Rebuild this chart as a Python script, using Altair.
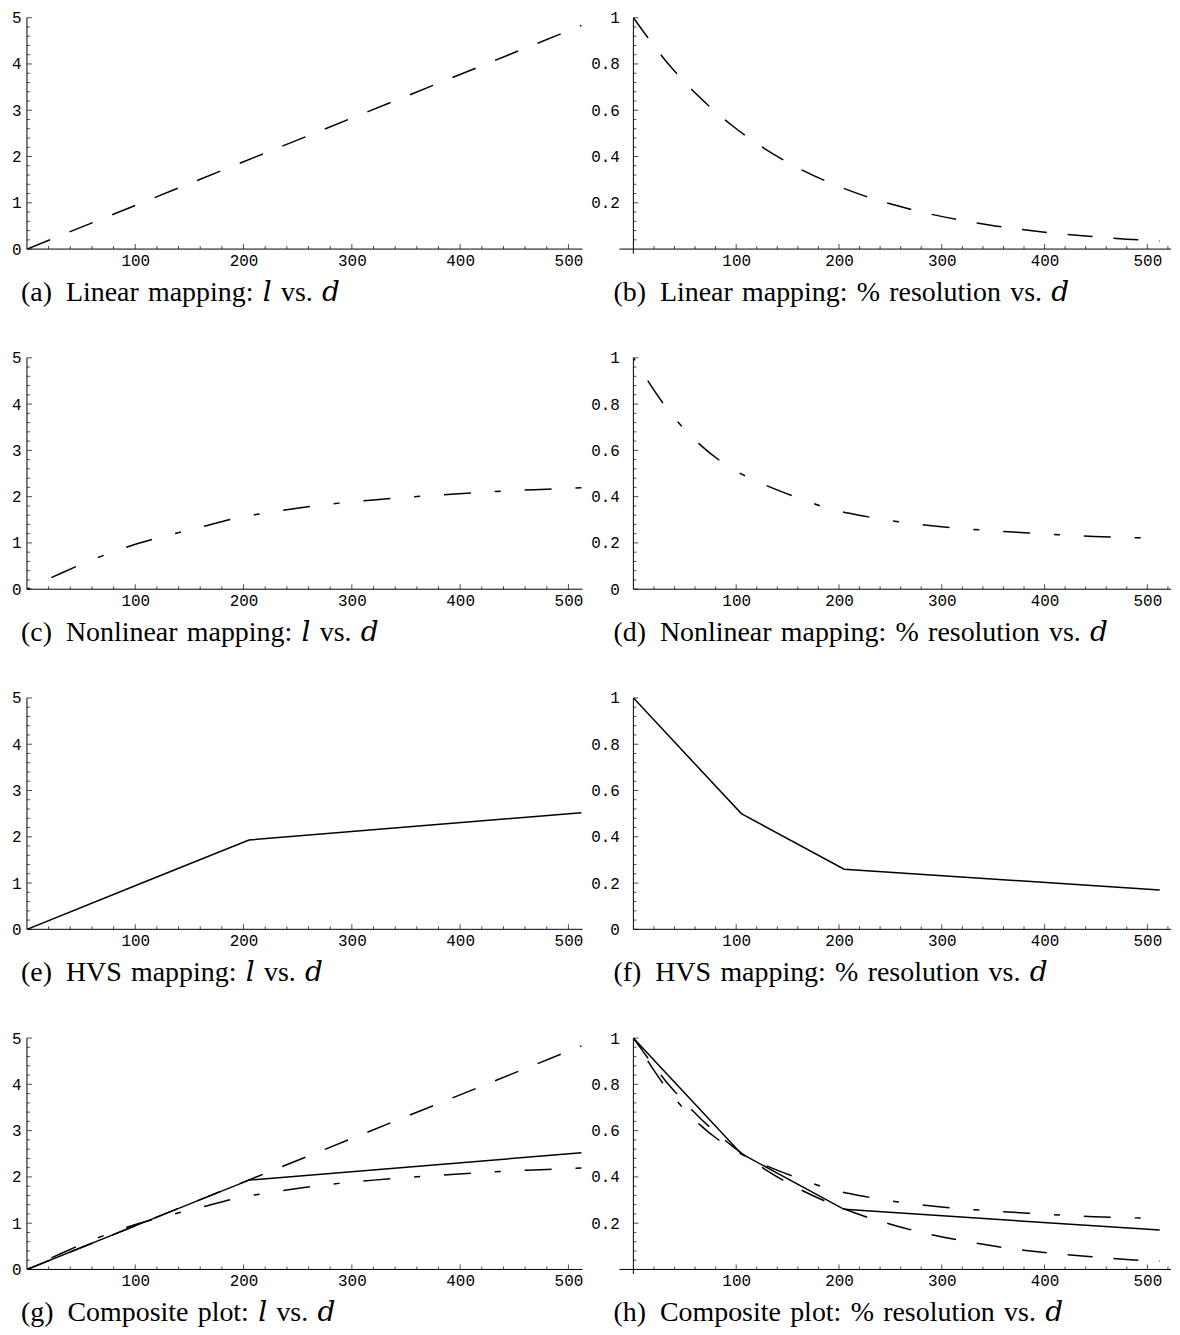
import altair as alt
import pandas as pd

# ---------------- values ----------------
# linear mapping  l(d)
lin_d = [0, 512]
lin_l = [0.0, 4.83]

# sampled curves
curve_d = [0, 32, 64, 96, 128, 160, 192, 224, 256, 288, 320, 352, 384, 416, 448, 480, 512]
lin_res = [1.0, 0.811, 0.658, 0.534, 0.433, 0.351, 0.285, 0.231, 0.188, 0.152,
           0.124, 0.100, 0.081, 0.066, 0.054, 0.043, 0.035]
nl_l = [0.0, 0.35, 0.67, 0.94, 1.15, 1.34, 1.53, 1.66, 1.77, 1.86,
        1.93, 1.99, 2.04, 2.09, 2.13, 2.16, 2.19]
nl_res = [1.0, 0.785, 0.628, 0.521, 0.451, 0.395, 0.346, 0.316, 0.293, 0.275,
          0.262, 0.252, 0.243, 0.235, 0.228, 0.224, 0.219]

# HVS mapping (piecewise linear)
hvs_d = [0, 105, 205, 512]
hvs_l = [0.0, 0.99, 1.93, 2.52]
hvs_res = [1.0, 0.50, 0.26, 0.17]

NB = "\u00a0"
SP = "\u2004"  # three-per-em space: wider word gaps like the TeX captions
L_IT, D_IT = "\U0001D459", "\U0001D451"
captions = [
    f"(a){NB}{NB}Linear{SP}mapping:{SP}{L_IT}{SP}vs.{SP}{D_IT}",
    f"(b){NB}{NB}Linear{SP}mapping:{SP}%{SP}resolution{SP}vs.{SP}{D_IT}",
    f"(c){NB}{NB}Nonlinear{SP}mapping:{SP}{L_IT}{SP}vs.{SP}{D_IT}",
    f"(d){NB}{NB}Nonlinear{SP}mapping:{SP}%{SP}resolution{SP}vs.{SP}{D_IT}",
    f"(e){NB}{NB}HVS{SP}mapping:{SP}{L_IT}{SP}vs.{SP}{D_IT}",
    f"(f){NB}{NB}HVS{SP}mapping:{SP}%{SP}resolution{SP}vs.{SP}{D_IT}",
    f"(g){NB}{NB}Composite{SP}plot:{SP}{L_IT}{SP}vs.{SP}{D_IT}",
    f"(h){NB}{NB}Composite{SP}plot:{SP}%{SP}resolution{SP}vs.{SP}{D_IT}",
]

# tick labels / tick positions
x_major = [100, 200, 300, 400, 500]
l_major = [0, 1, 2, 3, 4, 5]
res_major_nozero = [0.2, 0.4, 0.6, 0.8, 1.0]
res_major_zero = [0, 0.2, 0.4, 0.6, 0.8, 1.0]
x_minor_left = [v for v in range(20, 501, 20) if v % 100]
x_minor_right = [v for v in range(20, 521, 20) if v % 100]
y_minor_left = [round(i * 0.2, 2) for i in range(1, 25) if i % 5]
y_minor_right = [round(i * 0.04, 2) for i in range(1, 25) if i % 5]

# ---------------- styling ----------------
LW, RW, H = 557, 539, 232
XL, XR = [0, 513], [0, 523]
DASH = [25, 21]
DASHDOT = [27, 24, 6, 24]
DASHDOT_OFF = 54
LINE_W = 1.5
LABEL_FONT = "Liberation Mono"
CAP_FONT = "Liberation Serif, DejaVu Serif, serif"


def panel(kind, series, caption, extended=False, zero_label=True):
    if kind == "l":
        W, xdom, ydom = LW, XL, [0, 5]
        yvals, ymin, xmin = l_major, y_minor_left, x_minor_left
        ypad, cap_dx, yfmt = 6, -6, "d"
    else:
        W, xdom, ydom = RW, XR, [0, 1]
        yvals = res_major_zero if zero_label else res_major_nozero
        ymin, xmin = y_minor_right, x_minor_right
        ypad, cap_dx, yfmt = 14, -20, "~g"
    xs = alt.Scale(domain=xdom, nice=False, zero=False)
    ys = alt.Scale(domain=ydom, nice=False, zero=False)
    xa = alt.Axis(values=x_major, domain=False, ticks=False, grid=False,
                  labelPadding=3, format="d", labelFlush=False)
    ya = alt.Axis(values=yvals, domain=False, ticks=False, grid=False,
                  labelPadding=ypad, format=yfmt, labelFlush=False)

    def X(f):
        return alt.X(f, type="quantitative", scale=xs, axis=xa, title=None)

    def Y(f):
        return alt.Y(f, type="quantitative", scale=ys, axis=ya, title=None)

    one = alt.InlineData(values=[{}])
    layers = []
    x_lo = -13.6 if extended else xdom[0]
    y_lo = -0.02 if extended else ydom[0]
    # axis lines
    layers.append(alt.Chart(one).mark_rule(color="black", strokeWidth=1).encode(
        x=alt.datum(x_lo), x2=alt.datum(xdom[1]), y=alt.datum(0)))
    layers.append(alt.Chart(one).mark_rule(color="black", strokeWidth=1).encode(
        y=alt.datum(y_lo), y2=alt.datum(ydom[1]), x=alt.datum(0)))
    # ticks (inside)
    for vals, size in ((x_major, 5), (xmin, 3)):
        layers.append(alt.Chart(pd.DataFrame({"t": vals})).mark_tick(
            orient="vertical", size=size, thickness=1, yOffset=-size / 2,
            color="black").encode(x=X("t"), y=alt.datum(0)))
    for vals, size in ((yvals, 5), (ymin, 3)):
        layers.append(alt.Chart(pd.DataFrame({"t": vals})).mark_tick(
            orient="horizontal", size=size, thickness=1, xOffset=size / 2,
            color="black").encode(y=Y("t"), x=alt.datum(0)))
    # data lines
    for d, v, style in series:
        kw = dict(color="black", strokeWidth=LINE_W, clip=True)
        if style == "dash":
            kw.update(strokeDash=DASH, interpolate="monotone")
        elif style == "dashdot":
            kw.update(strokeDash=DASHDOT, strokeDashOffset=DASHDOT_OFF,
                      interpolate="monotone")
        else:
            kw.update(interpolate="linear")
        layers.append(alt.Chart(pd.DataFrame({"d": d, "v": v})).mark_line(**kw).encode(
            x=X("d"), y=Y("v")))
    return alt.layer(*layers).properties(
        width=W, height=H,
        title=alt.TitleParams(text=caption, orient="bottom", anchor="start",
                              frame="group", dx=cap_dx, offset=11,
                              baseline="top"))


pa = panel("l", [(lin_d, lin_l, "dash")], captions[0])
pb = panel("r", [(curve_d, lin_res, "dash")], captions[1], extended=True, zero_label=False)
pc = panel("l", [(curve_d, nl_l, "dashdot")], captions[2])
pd_ = panel("r", [(curve_d, nl_res, "dashdot")], captions[3])
pe = panel("l", [(hvs_d, hvs_l, "solid")], captions[4])
pf = panel("r", [(hvs_d, hvs_res, "solid")], captions[5])
pg = panel("l", [(lin_d, lin_l, "dash"), (curve_d, nl_l, "dashdot"),
                 (hvs_d, hvs_l, "solid")], captions[6])
ph = panel("r", [(curve_d, lin_res, "dash"), (curve_d, nl_res, "dashdot"),
                 (hvs_d, hvs_res, "solid")], captions[7], extended=True, zero_label=False)

rows = [alt.hconcat(l, r, spacing=51, bounds="flush")
        for l, r in ((pa, pb), (pc, pd_), (pe, pf), (pg, ph))]

chart = alt.vconcat(*rows, spacing=341, bounds="flush").properties(
    padding={"left": 3, "top": 0, "right": 0, "bottom": 0},
    background="white",
).configure_view(stroke=None).configure_axis(
    labelFont=LABEL_FONT, labelFontSize=16, labelColor="black",
).configure_title(
    font=CAP_FONT, fontSize=28, fontWeight="normal", color="black",
)

chart.save("out.html", embed_options={"renderer": "svg", "actions": False})
